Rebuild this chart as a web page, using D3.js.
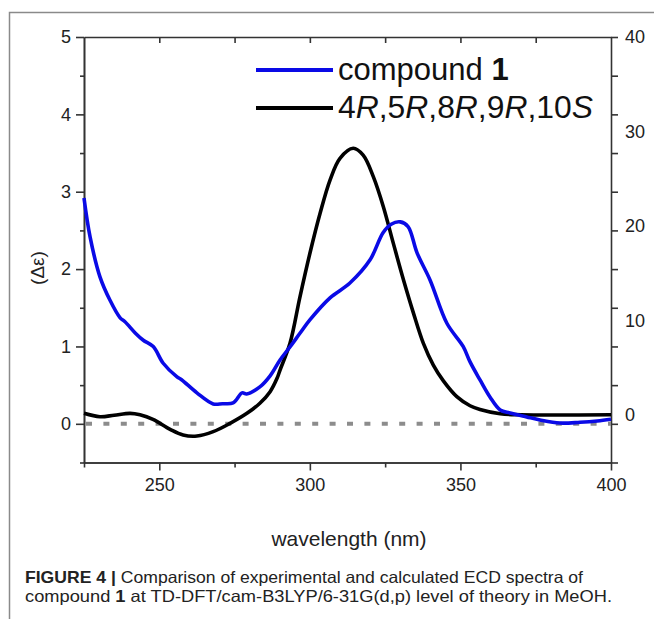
<!DOCTYPE html>
<html>
<head>
<meta charset="utf-8">
<script src="https://cdn.jsdelivr.net/npm/d3@7"></script>
<style>
  body { margin: 0; background: #fff; }
  text { font-family: "Liberation Sans", Arial, sans-serif; fill: #222; }
</style>
</head>
<body>
<div id="vis1"></div>
<script>
// experimental CD, compound 1 (left axis, delta epsilon)
const EXP_NM  = [225, 227, 230.3, 233.6, 237, 238.6, 242, 244.7, 248, 251.3, 255.8, 257.4, 262.5, 267.9, 271, 274.5, 277.5, 279, 283.4, 286.8, 290.1, 293.4, 296.7, 300, 306.7, 313.3, 320, 324.3, 327, 330, 332.6, 335.6, 339.9, 345.5, 350.9, 353.2, 356.5, 359.8, 363.2, 366.5, 372, 376.4, 383, 389.7, 395.4, 400];
const EXP_VAL = [2.92, 2.42, 1.90, 1.60, 1.37, 1.32, 1.175, 1.08, 0.998, 0.783, 0.61, 0.57, 0.40, 0.257, 0.26, 0.27, 0.40, 0.386, 0.477, 0.62, 0.826, 0.994, 1.17, 1.343, 1.628, 1.82, 2.12, 2.47, 2.58, 2.61, 2.55, 2.21, 1.86, 1.30, 1.0, 0.80, 0.567, 0.347, 0.179, 0.14, 0.089, 0.05, 0.01, 0.02, 0.037, 0.06];

// calculated ECD, 4R,5R,8R,9R,10S (right axis)
const CALC_NM  = [225, 230.3, 235, 240.3, 243.6, 247.9, 253.6, 257.9, 262.5, 267.9, 273.5, 279.1, 283.4, 286.8, 289.1, 290.1, 293.4, 296.7, 300, 303.4, 306.7, 310, 314.4, 317.7, 321.1, 324.4, 327.7, 331.1, 334.4, 337.7, 341, 344.4, 348.8, 353.2, 356.5, 363.2, 370, 400];
const CALC_VAL = [0.2, -0.16, 0.0, 0.2, 0.05, -0.43, -1.49, -2.09, -2.2, -1.74, -0.86, 0.2, 1.26, 2.49, 3.9, 4.78, 7.6, 12.5, 17.1, 21.35, 24.87, 27.17, 28.23, 27.5, 25.2, 22.05, 18.2, 14.3, 10.8, 7.6, 5.3, 3.6, 1.96, 1.0, 0.6, 0.15, 0.05, 0.05];

const X_MAJOR = [250, 300, 350, 400];
const X_MINOR = [225, 275, 325, 375];
const Y_MAJOR = [0, 1, 2, 3, 4, 5];
const Y_MINOR = [-0.5, 0.5, 1.5, 2.5, 3.5, 4.5];
const Y2_LABELS = [0, 10, 20, 30, 40];

const WIDTH = 654;
const HEIGHT = 619;
const MARG = {left : 84, right : 43, top : 37, bottom : 156.5};
const VIS_WIDTH = WIDTH - MARG.left - MARG.right;
const VIS_HEIGHT = HEIGHT - MARG.top - MARG.bottom;

const FRAME = d3.select("#vis1")
  .append("svg")
    .attr("width", WIDTH)
    .attr("height", HEIGHT);

// outer figure frame (top + left rule)
FRAME.append("path")
  .attr("d", "M9.5,619 V12.5 H654")
  .attr("fill", "none")
  .attr("stroke", "#8a8a8a")
  .attr("stroke-width", 1.5);

const X_SCALE = d3.scaleLinear().domain([225, 400]).range([0, VIS_WIDTH]);
const Y_SCALE = d3.scaleLinear().domain([-0.5, 5]).range([VIS_HEIGHT, 0]);
const Y2_SCALE = d3.scaleLinear().domain([-5, 40]).range([VIS_HEIGHT, 0]);

const g = FRAME.append("g").attr("transform", "translate(" + MARG.left + "," + MARG.top + ")");

function styleAxis(sel) {
  sel.select(".domain").attr("stroke", "#333").attr("stroke-width", 1.6);
  sel.selectAll(".tick line").attr("stroke", "#333").attr("stroke-width", 1.6);
  sel.selectAll(".tick text").attr("font-size", 18).attr("fill", "#222")
    .attr("font-family", "Liberation Sans, Arial, sans-serif");
}

// bottom
g.append("g").attr("transform", "translate(0," + VIS_HEIGHT + ")")
  .call(d3.axisBottom(X_SCALE).tickValues(X_MINOR).tickSize(5).tickSizeOuter(0).tickFormat(""))
  .call(styleAxis);
g.append("g").attr("transform", "translate(0," + VIS_HEIGHT + ")")
  .call(d3.axisBottom(X_SCALE).tickValues(X_MAJOR).tickSize(8).tickSizeOuter(0).tickPadding(8))
  .call(styleAxis);

// top
g.append("g")
  .call(d3.axisTop(X_SCALE).tickValues([250, 275, 300, 325, 350, 375]).tickSize(-6).tickSizeOuter(0).tickFormat(""))
  .call(styleAxis);

// left
g.append("g")
  .call(d3.axisLeft(Y_SCALE).tickValues(Y_MINOR).tickSize(4).tickSizeOuter(0).tickFormat(""))
  .call(styleAxis);
g.append("g")
  .call(d3.axisLeft(Y_SCALE).tickValues(Y_MAJOR).tickSize(8).tickSizeOuter(0).tickPadding(5).tickFormat(d3.format("d")))
  .call(styleAxis);

// right: tick marks follow left grid, labels follow calc scale
g.append("g").attr("transform", "translate(" + VIS_WIDTH + ",0)")
  .call(d3.axisRight(Y_SCALE).tickValues(Y_MINOR.concat(Y_MAJOR)).tickSize(7).tickSizeOuter(0).tickFormat(""))
  .call(styleAxis);
g.append("g").attr("transform", "translate(" + VIS_WIDTH + ",0)")
  .call(d3.axisRight(Y2_SCALE).tickValues(Y2_LABELS).tickSize(0).tickSizeOuter(0).tickPadding(14))
  .call(styleAxis)
  .call(a => a.select(".domain").remove());

// zero reference (dotted)
g.append("line")
  .attr("x1", 2).attr("x2", VIS_WIDTH)
  .attr("y1", Y_SCALE(0)).attr("y2", Y_SCALE(0))
  .attr("stroke", "#8c8c8c")
  .attr("stroke-width", 4)
  .attr("stroke-dasharray", "6 11.4");

const expData = EXP_NM.map((d, i) => [d, EXP_VAL[i]]);
const calcData = CALC_NM.map((d, i) => [d, CALC_VAL[i]]);

const lineExp = d3.line()
  .x(d => X_SCALE(d[0]))
  .y(d => Y_SCALE(d[1]))
  .curve(d3.curveCatmullRom.alpha(0.5));
const lineCalc = d3.line()
  .x(d => X_SCALE(d[0]))
  .y(d => Y2_SCALE(d[1]))
  .curve(d3.curveCatmullRom.alpha(0.5));

g.append("path").datum(calcData)
  .attr("d", lineCalc)
  .attr("fill", "none")
  .attr("stroke", "#000")
  .attr("stroke-width", 3.6)
  .attr("stroke-linejoin", "round");

g.append("path").datum(expData)
  .attr("d", lineExp)
  .attr("fill", "none")
  .attr("stroke", "#0a0ae6")
  .attr("stroke-width", 3.6)
  .attr("stroke-linejoin", "round");

// legend
const leg = FRAME.append("g");
leg.append("line").attr("x1", 256).attr("x2", 333).attr("y1", 70).attr("y2", 70)
  .attr("stroke", "#0a0ae6").attr("stroke-width", 4);
leg.append("line").attr("x1", 256).attr("x2", 333).attr("y1", 108).attr("y2", 108)
  .attr("stroke", "#000").attr("stroke-width", 4);
const t1 = leg.append("text").attr("x", 338).attr("y", 80).attr("font-size", 31).style("fill", "#111");
t1.append("tspan").text("compound ");
t1.append("tspan").attr("font-weight", "bold").text("1");
const t2 = leg.append("text").attr("x", 338).attr("y", 118).attr("font-size", 31).style("fill", "#111")
  .attr("textLength", 255).attr("lengthAdjust", "spacingAndGlyphs");
[["4", false], ["R", true], [",5", false], ["R", true], [",8", false], ["R", true], [",9", false], ["R", true], [",10", false], ["S", true]]
  .forEach(p => t2.append("tspan").attr("font-style", p[1] ? "italic" : "normal").text(p[0]));

// axis titles
FRAME.append("text")
  .attr("transform", "translate(44,268) rotate(-90)")
  .attr("text-anchor", "middle")
  .attr("font-size", 19)
  .text("(\u0394\u03b5)");

FRAME.append("text")
  .attr("x", 349).attr("y", 546)
  .attr("text-anchor", "middle")
  .attr("font-size", 21)
  .text("wavelength (nm)");

// caption
const c1 = FRAME.append("text").attr("x", 25).attr("y", 583).attr("font-size", 16.5)
  .attr("textLength", 558).attr("lengthAdjust", "spacingAndGlyphs");
c1.append("tspan").attr("font-weight", "bold").text("FIGURE 4 |");
c1.append("tspan").text(" Comparison of experimental and calculated ECD spectra of");
const c2 = FRAME.append("text").attr("x", 25).attr("y", 602).attr("font-size", 16.5)
  .attr("textLength", 587).attr("lengthAdjust", "spacingAndGlyphs");
c2.append("tspan").text("compound ");
c2.append("tspan").attr("font-weight", "bold").text("1");
c2.append("tspan").text(" at TD-DFT/cam-B3LYP/6-31G(d,p) level of theory in MeOH.");
</script>
</body>
</html>
